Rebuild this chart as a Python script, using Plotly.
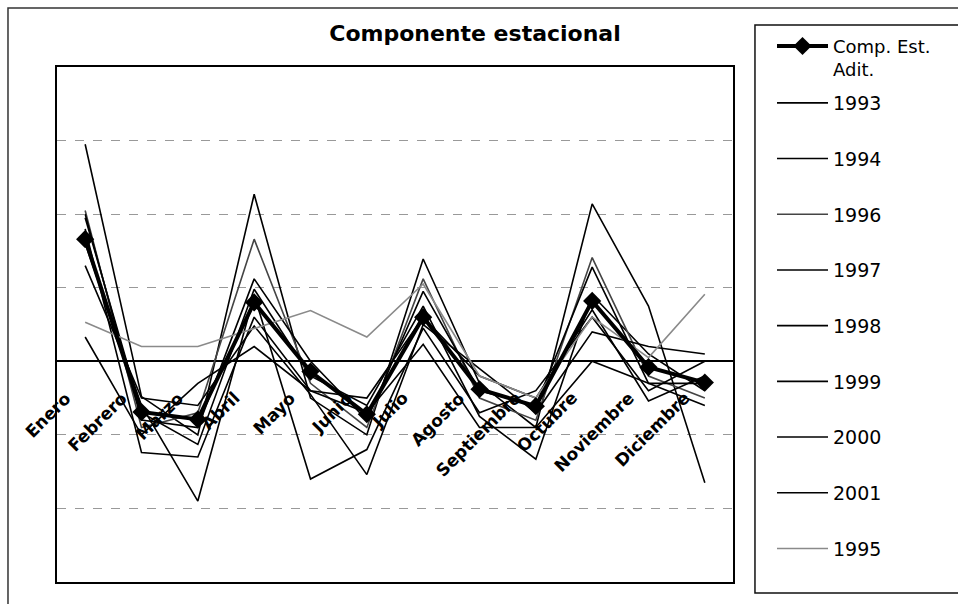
import plotly.graph_objects as go

meses = ["Enero", "Febrero", "Marzo", "Abril", "Mayo", "Junio", "Julio",
         "Agosto", "Septiembre", "Octubre", "Noviembre", "Diciembre"]

comp_est_adit = [1.66, -0.69, -0.79, 0.80, -0.14, -0.72, 0.60, -0.38, -0.61, 0.82, -0.08, -0.29]

y1993 = [1.95, -0.70, -1.13, 0.98, -0.20, -0.60, 0.75, -0.75, -1.33, 0.90, 0.10, -0.40]
y1994 = [2.95, -0.48, -1.00, 2.27, -0.50, -1.00, 1.39, -0.30, -0.90, 2.14, 0.75, -1.65]
y1996 = [2.05, -0.90, -0.70, 1.66, -0.30, -0.90, 1.12, -0.50, -0.80, 1.41, -0.20, -0.50]
y1997 = [2.00, -0.80, -0.90, 1.12, 0.00, -0.80, 0.95, -0.40, -0.60, 1.28, -0.30, -0.30]
y1998 = [1.80, -1.24, -1.30, 0.60, -0.40, -0.50, 0.60, -0.20, -0.50, 0.70, -0.54, -0.20]
y1999 = [1.60, -0.60, -1.90, 0.90, -1.60, -1.20, 0.45, -0.70, -0.40, 0.60, -0.40, 0.00]
y2000 = [1.30, -0.50, -0.60, 0.48, -0.45, -1.54, 0.50, -0.10, -0.70, 0.40, 0.20, 0.10]
y2001 = [0.33, -1.00, -0.30, 0.20, -0.40, -0.70, 0.23, -0.90, -0.90, 0.00, -0.30, -0.60]
y1995 = [0.53, 0.20, 0.20, 0.45, 0.69, 0.33, 1.05, -0.20, -0.50, 0.60, 0.05, 0.91]

series = [
    ("1993", y1993, "#000000"),
    ("1994", y1994, "#000000"),
    ("1996", y1996, "#444444"),
    ("1997", y1997, "#000000"),
    ("1998", y1998, "#000000"),
    ("1999", y1999, "#000000"),
    ("2000", y2000, "#000000"),
    ("2001", y2001, "#000000"),
    ("1995", y1995, "#8a8a8a"),
]

FONT = "DejaVu Sans"

fig = go.Figure()
for name, vals, color in series:
    fig.add_trace(go.Scatter(
        x=meses, y=vals, mode="lines", name=name,
        line=dict(color=color, width=1.6),
        legend="legend2", legendgroup=name,
    ))

fig.add_trace(go.Scatter(
    x=meses, y=comp_est_adit, mode="lines+markers", name="Comp. Est.<br>Adit.",
    line=dict(color="black", width=4),
    marker=dict(symbol="diamond", size=14, color="black"),
    legend="legend",
))

for m in meses:
    fig.add_annotation(
        x=m, y=0, text="<b>" + m + "</b>", textangle=-45, showarrow=False,
        xanchor="right", yanchor="top", xshift=-8, yshift=-24,
        font=dict(family=FONT, size=17, color="black"),
    )

# outer chart frame and legend frame
fig.add_shape(type="rect", xref="paper", yref="paper",
              x0=-0.0725, x1=1.6, y0=-0.5, y1=1.1146,
              line=dict(color="#333333", width=1.5))
fig.add_shape(type="rect", xref="paper", yref="paper",
              x0=1.0325, x1=1.6, y0=-0.0214, y1=1.0816,
              line=dict(color="#111111", width=1.5))

fig.update_layout(
    width=958, height=604,
    margin=dict(l=57, r=225, t=67, b=22, autoexpand=False),
    paper_bgcolor="white", plot_bgcolor="white",
    title=dict(text="<b>Componente estacional</b>", xref="container", yref="container",
               x=475 / 958, y=1 - 33 / 604, xanchor="center", yanchor="middle",
               font=dict(family=FONT, size=22, color="black")),
    xaxis=dict(type="category", range=[-0.5, 11.5], showgrid=False, showticklabels=False,
               ticks="", showline=True, mirror=True, linecolor="black", linewidth=1.5,
               zeroline=False),
    yaxis=dict(range=[-3, 4], dtick=1, tick0=0, showgrid=True, gridcolor="#999999",
               griddash="dash", gridwidth=1, zeroline=True, zerolinecolor="black",
               zerolinewidth=1.5, showticklabels=False, ticks="", showline=True,
               mirror=True, linecolor="black", linewidth=1.5),
    showlegend=True,
    legend=dict(x=1.0577, y=1.0761, xanchor="left", yanchor="top",
                font=dict(family=FONT, size=18, color="black"),
                bgcolor="rgba(0,0,0,0)", borderwidth=0, itemwidth=51, valign="top"),
    legend2=dict(x=1.0577, y=0.967, xanchor="left", yanchor="top",
                 font=dict(family=FONT, size=19, color="black"),
                 bgcolor="rgba(0,0,0,0)", borderwidth=0, itemwidth=51,
                 tracegroupgap=28, traceorder="grouped"),
)

fig.write_html("out.html")
